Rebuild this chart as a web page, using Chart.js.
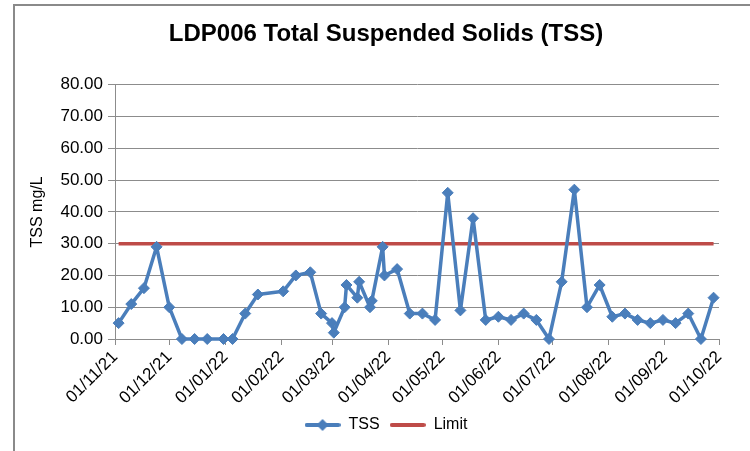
<!DOCTYPE html>
<html>
<head>
<meta charset="utf-8">
<title>LDP006 Total Suspended Solids (TSS)</title>
<script src="https://cdn.jsdelivr.net/npm/chart.js@4.4.0/dist/chart.umd.min.js"></script>
<style>
  body { margin: 0; background: #ffffff; }
  canvas { display: block; }
</style>
</head>
<body>
<canvas id="tssChart" width="750" height="451"></canvas>
<script>
// Sampling dates (weekly, twice a week through March) and TSS results in mg/L
const sampleDates = [
    '2021-11-03', '2021-11-10', '2021-11-17', '2021-11-24', '2021-12-01',
    '2021-12-08', '2021-12-15', '2021-12-22', '2021-12-31', '2022-01-05',
    '2022-01-12', '2022-01-19', '2022-02-02', '2022-02-09', '2022-02-17',
    '2022-02-23', '2022-03-01', '2022-03-02', '2022-03-08', '2022-03-09',
    '2022-03-15', '2022-03-16', '2022-03-22', '2022-03-23', '2022-03-29',
    '2022-03-30', '2022-04-06', '2022-04-13', '2022-04-20', '2022-04-27',
    '2022-05-04', '2022-05-11', '2022-05-18', '2022-05-25', '2022-06-01',
    '2022-06-08', '2022-06-15', '2022-06-22', '2022-06-29', '2022-07-06',
    '2022-07-13', '2022-07-20', '2022-07-27', '2022-08-03', '2022-08-10',
    '2022-08-17', '2022-08-24', '2022-08-31', '2022-09-07', '2022-09-14',
    '2022-09-21', '2022-09-28'
];
const tssValues = [
    5, 11, 16, 29, 10,
    0, 0, 0, 0, 0,
    8, 14, 15, 20, 21,
    8, 5, 2, 10, 17,
    13, 18, 10, 12, 29,
    20, 22, 8, 8, 6,
    46, 9, 38, 6, 7,
    6, 8, 6, 0, 18,
    47, 10, 17, 7, 8,
    6, 5, 6, 5, 8,
    0, 13
];
const limitValue = 30;

// Month ticks along the date axis
const tickDates = [
    '2021-11-01', '2021-12-01', '2022-01-01', '2022-02-01', '2022-03-01', '2022-04-01',
    '2022-05-01', '2022-06-01', '2022-07-01', '2022-08-01', '2022-09-01', '2022-10-01'
];
const yMin = 0;
const yMax = 80;
const yStep = 10;

const FONT = '"Liberation Sans", Arial, sans-serif';
const TSS_BLUE = '#4a7ebb';
const LIMIT_RED = '#be4b48';
const GREY = '#8c8c8c';

// 'YYYY-MM-DD' -> ms timestamp (UTC)
function toTime(s) {
    const p = s.split('-').map(Number);
    return Date.UTC(p[0], p[1] - 1, p[2]);
}

// ms timestamp -> 'dd/mm/yy'
function fmtDate(v) {
    const d = new Date(v);
    const dd = String(d.getUTCDate()).padStart(2, '0');
    const mm = String(d.getUTCMonth() + 1).padStart(2, '0');
    const yy = String(d.getUTCFullYear() % 100).padStart(2, '0');
    return dd + '/' + mm + '/' + yy;
}

const tssPoints = sampleDates.map((d, i) => ({ x: toTime(d), y: tssValues[i] }));
const limitPoints = [
    { x: toTime(sampleDates[0]), y: limitValue },
    { x: toTime(sampleDates[sampleDates.length - 1]), y: limitValue }
];
const tickTimes = tickDates.map(toTime);

// Small line samples for the legend (line with marker / plain line)
function legendIcon(color, withMarker) {
    const c = document.createElement('canvas');
    c.width = 36;
    c.height = 14;
    const g = c.getContext('2d');
    g.strokeStyle = color;
    g.lineWidth = 4;
    g.lineCap = 'round';
    g.beginPath();
    g.moveTo(2, 7);
    g.lineTo(34, 7);
    g.stroke();
    if (withMarker) {
        g.fillStyle = color;
        g.beginPath();
        g.moveTo(18, 1);
        g.lineTo(24, 7);
        g.lineTo(18, 13);
        g.lineTo(12, 7);
        g.closePath();
        g.fill();
    }
    return c;
}
const legendIcons = [legendIcon(TSS_BLUE, true), legendIcon(LIMIT_RED, false)];

// White background and the grey frame along the top and left edges
const framePlugin = {
    id: 'frame',
    beforeDraw(chart) {
        const ctx = chart.ctx;
        ctx.save();
        ctx.fillStyle = '#ffffff';
        ctx.fillRect(0, 0, chart.width, chart.height);
        ctx.strokeStyle = '#8a8a8a';
        ctx.lineWidth = 2;
        ctx.beginPath();
        ctx.moveTo(chart.width, 5);
        ctx.lineTo(14, 5);
        ctx.lineTo(14, chart.height);
        ctx.stroke();
        ctx.restore();
    }
};

const ctx = document.getElementById('tssChart').getContext('2d');
new Chart(ctx, {
    type: 'line',
    data: {
        datasets: [
            {
                label: 'TSS',
                data: tssPoints,
                borderColor: TSS_BLUE,
                backgroundColor: TSS_BLUE,
                borderWidth: 3.5,
                borderJoinStyle: 'round',
                borderCapStyle: 'round',
                pointStyle: 'rectRot',
                pointRadius: 5.5,
                pointBackgroundColor: TSS_BLUE,
                pointBorderColor: TSS_BLUE,
                pointBorderWidth: 1,
                tension: 0,
                clip: false,
                order: 0
            },
            {
                label: 'Limit',
                data: limitPoints,
                borderColor: LIMIT_RED,
                backgroundColor: LIMIT_RED,
                borderWidth: 3.5,
                pointRadius: 0,
                tension: 0,
                clip: false,
                order: 1
            }
        ]
    },
    options: {
        responsive: false,
        animation: false,
        layout: {
            padding: { left: 22, right: 0, top: 0, bottom: 8 }
        },
        scales: {
            x: {
                type: 'linear',
                min: tickTimes[0],
                max: tickTimes[tickTimes.length - 1],
                afterBuildTicks: (scale) => {
                    scale.ticks = tickTimes.map(v => ({ value: v }));
                },
                afterFit: (scale) => { scale.height = 68; },
                grid: {
                    drawOnChartArea: false,
                    drawTicks: true,
                    tickLength: 6,
                    color: GREY
                },
                border: { color: GREY, width: 1 },
                ticks: {
                    autoSkip: false,
                    maxRotation: 45,
                    minRotation: 45,
                    padding: 2,
                    color: '#000000',
                    font: { family: FONT, size: 17 },
                    callback: (v) => fmtDate(v)
                }
            },
            y: {
                min: yMin,
                max: yMax,
                afterFit: (scale) => { scale.width = 93; },
                grid: {
                    color: GREY,
                    lineWidth: 1,
                    drawTicks: true,
                    tickLength: 7
                },
                border: { color: GREY, width: 1 },
                ticks: {
                    stepSize: yStep,
                    padding: 5,
                    color: '#000000',
                    font: { family: FONT, size: 17 },
                    callback: (v) => v.toFixed(2)
                },
                title: {
                    display: true,
                    text: 'TSS mg/L',
                    color: '#000000',
                    font: { family: FONT, size: 16 },
                    padding: { top: 6, bottom: 0 }
                }
            },
            // empty right-hand axis that only reserves the margin beside the plot
            yRight: {
                position: 'right',
                display: true,
                afterFit: (scale) => { scale.width = 31; },
                grid: { display: false, drawTicks: false },
                border: { display: false },
                ticks: { display: false }
            }
        },
        plugins: {
            title: {
                display: true,
                text: 'LDP006 Total Suspended Solids (TSS)',
                color: '#000000',
                font: { family: FONT, size: 24, weight: 'bold' },
                padding: { top: 20, bottom: 36 }
            },
            legend: {
                position: 'bottom',
                labels: {
                    usePointStyle: true,
                    pointStyleWidth: 36,
                    padding: 10,
                    color: '#000000',
                    font: { family: FONT, size: 16 },
                    generateLabels: (chart) => {
                        const items = Chart.defaults.plugins.legend.labels.generateLabels(chart);
                        items.forEach((item, i) => { item.pointStyle = legendIcons[i]; });
                        return items;
                    }
                }
            },
            tooltip: { enabled: false }
        }
    },
    plugins: [framePlugin]
});
</script>
</body>
</html>
